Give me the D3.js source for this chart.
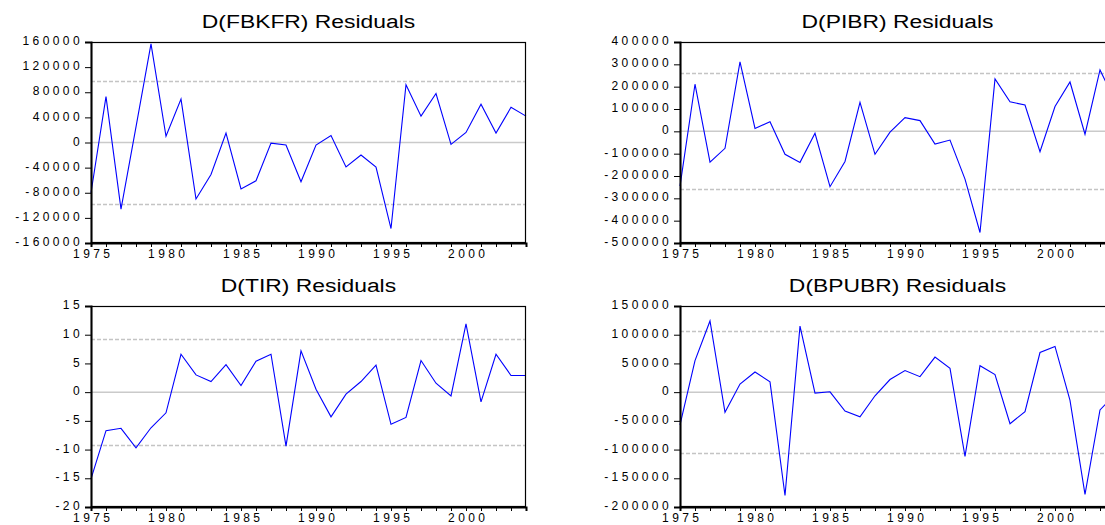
<!DOCTYPE html>
<html>
<head>
<meta charset="utf-8">
<script src="https://cdn.jsdelivr.net/npm/d3@7"></script>
<style>
  html, body { margin: 0; padding: 0; background: #ffffff; overflow: hidden; }
  svg { display: block; font-family: "Liberation Sans", Arial, sans-serif; }
</style>
</head>
<body>
<svg id="chart" width="1105" height="525"></svg>
<script>
// Years of the residual series
const years = d3.range(1975, 2005);

// Residuals of each equation
const fbkfr = [-80000, 73000, -106000, 25000, 157000, 10000, 69000, -90000, -51000, 15000,
  -74000, -61000, -1000, -4000, -62500, -4000, 11000, -39000, -20000, -39000,
  -137000, 92000, 42000, 78000, -3000, 16000, 61000, 15000, 56000, 42000];
const pibr = [-245000, 211000, -138000, -76000, 311000, 13000, 43000, -103000, -139000, -9000,
  -248000, -135000, 130000, -103000, -4000, 61000, 48000, -57000, -39000, -214000,
  -453000, 235000, 132000, 118000, -91000, 111000, 221000, -13000, 275000, 135000];
const tir = [-15.1, -6.7, -6.3, -9.7, -6.2, -3.6, 6.6, 3.0, 1.85, 4.8,
  1.15, 5.4, 6.6, -9.4, 7.2, 0.5, -4.3, -0.35, 1.85, 4.7,
  -5.6, -4.4, 5.5, 1.55, -0.65, 11.9, -1.7, 6.6, 2.9, 2.9];
const bpubr = [-57000, 55000, 124000, -35000, 14000, 35000, 18000, -180000, 115000, -1700,
  600, -33000, -43000, -6300, 22000, 37500, 27000, 61000, 41500, -112000,
  46000, 30600, -55000, -34000, 69000, 79600, -14400, -178000, -31000, -4000];

// Panel titles, value axis ranges, tick steps and ±2 S.E. band levels
const titles = ["D(FBKFR) Residuals", "D(PIBR) Residuals", "D(TIR) Residuals", "D(BPUBR) Residuals"];
const series = [fbkfr, pibr, tir, bpubr];
const yMin = [-160000, -500000, -20, -200000];
const yMax = [160000, 400000, 15, 150000];
const yStep = [40000, 100000, 5, 50000];
const bands = [98000, 260000, 9.17, 106000];
const yearLabels = [1975, 1980, 1985, 1990, 1995, 2000];

const svg = d3.select("#chart");

// Plot-area placement for each panel (2 x 2 grid)
const plotW = 435, plotH = 201;
const colX = [91, 680], rowY = [42, 306];
const labelSpacing = 3.4;
const titleStretch = 1.27;

series.forEach((vals, i) => {
  const left = colX[i % 2], top = rowY[Math.floor(i / 2)];
  const g = svg.append("g").attr("transform", `translate(${left},${top})`);

  const x = d3.scaleLinear().domain([1975, 2004]).range([0, plotW]);
  const y = d3.scaleLinear().domain([yMin[i], yMax[i]]).range([plotH, 0]);

  // zero line
  g.append("line")
    .attr("x1", 0).attr("x2", plotW)
    .attr("y1", y(0)).attr("y2", y(0))
    .attr("stroke", "#cacaca").attr("stroke-width", 1.5);

  // ±2 S.E. bands
  [bands[i], -bands[i]].forEach(b => {
    g.append("line")
      .attr("x1", 0).attr("x2", plotW)
      .attr("y1", Math.round(y(b)) + 0.5).attr("y2", Math.round(y(b)) + 0.5)
      .attr("stroke", "#c4c4c4").attr("stroke-width", 1.5)
      .attr("stroke-dasharray", "4,2");
  });

  // residual line
  const line = d3.line().x((d, k) => x(years[k])).y(d => y(d));
  g.append("path")
    .datum(vals)
    .attr("d", line)
    .attr("fill", "none")
    .attr("stroke", "#0000ff")
    .attr("stroke-width", 1.1);

  // frame
  g.append("rect")
    .attr("x", 0.5).attr("y", 0.5)
    .attr("width", plotW - 1).attr("height", plotH - 1)
    .attr("fill", "none").attr("stroke", "#000").attr("stroke-width", 1.2);

  // y axis
  const yAxis = d3.axisLeft(y)
    .tickValues(d3.range(yMin[i], yMax[i] + yStep[i] / 2, yStep[i]))
    .tickFormat(d => String(Math.round(d)))
    .tickSize(6).tickPadding(2);
  const ya = g.append("g").call(yAxis);
  ya.select(".domain").attr("stroke", "#000").attr("stroke-width", 2);
  ya.selectAll(".tick line").attr("stroke", "#000");
  ya.selectAll(".tick text")
    .attr("font-size", 12).attr("fill", "#000")
    .attr("dy", "0.22em")
    .style("letter-spacing", labelSpacing + "px");

  // x axis: a tick every year, labels every five years
  const xAxis = d3.axisBottom(x)
    .tickValues(years)
    .tickFormat(d => yearLabels.includes(d) ? String(d) : "")
    .tickSize(4).tickPadding(2);
  const xa = g.append("g").attr("transform", `translate(0,${plotH})`).call(xAxis);
  xa.select(".domain").attr("stroke", "#000").attr("stroke-width", 2);
  xa.selectAll(".tick line").attr("stroke", "#000");
  xa.selectAll(".tick text")
    .attr("font-size", 12).attr("fill", "#000")
    .attr("dx", labelSpacing / 2)
    .style("letter-spacing", labelSpacing + "px");

  // title, widened like the rest of the lettering
  const t = g.append("text")
    .attr("x", plotW / 2).attr("y", -14.5)
    .attr("text-anchor", "middle")
    .attr("font-size", 18).attr("fill", "#000")
    .text(titles[i]);
  const natural = t.node().getComputedTextLength();
  t.attr("textLength", natural * titleStretch)
   .attr("lengthAdjust", "spacingAndGlyphs");
});
</script>
</body>
</html>
